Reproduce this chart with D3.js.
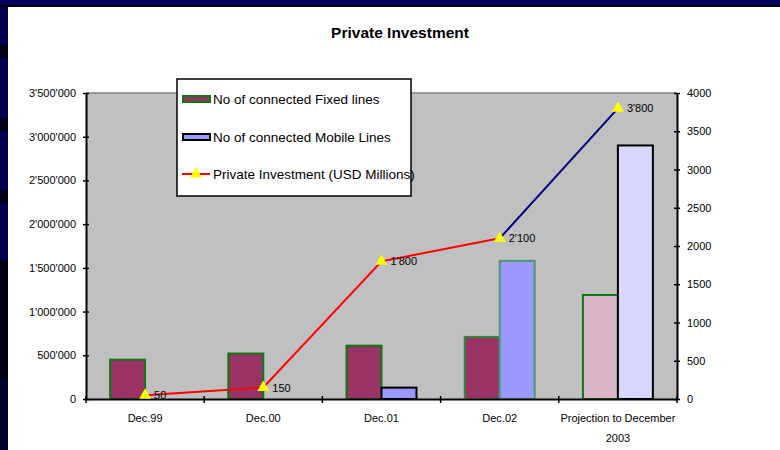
<!DOCTYPE html>
<html>
<head>
<meta charset="utf-8">
<script src="https://cdn.jsdelivr.net/npm/d3@7"></script>
<style>
  html, body { margin: 0; padding: 0; background: #ffffff; }
  svg { display: block; font-family: "Liberation Sans", Arial, sans-serif; }
</style>
</head>
<body>
<svg id="chart" width="780" height="450"></svg>
<script>
// ---- data ----
const categories = ["Dec.99", "Dec.00", "Dec.01", "Dec.02", "Projection to December 2003"];
const categoryLines = [["Dec.99"], ["Dec.00"], ["Dec.01"], ["Dec.02"], ["Projection to December", "2003"]];
const fixedLines = [450000, 520000, 610000, 710000, 1190000];
const mobileLines = [0, 0, 130000, 1580000, 2900000];
const investment = [50, 150, 1800, 2100, 3800];
const investmentLabels = ["50", "150", "1'800", "2'100", "3'800"];
const leftTicks = [0, 500000, 1000000, 1500000, 2000000, 2500000, 3000000, 3500000];
const rightTicks = [0, 500, 1000, 1500, 2000, 2500, 3000, 3500, 4000];
const seriesNames = ["No of connected Fixed lines", "No of connected Mobile Lines", "Private Investment (USD Millions)"];

// ---- layout ----
const svg = d3.select("#chart");
const W = 780, H = 450;
const plot = { left: 86, right: 677, top: 93, bottom: 399 };

// background frame
svg.append("rect").attr("x", 0).attr("y", 0).attr("width", W).attr("height", H).attr("fill", "#000050");
svg.append("rect").attr("x", 0).attr("y", 0).attr("width", W).attr("height", 5).attr("fill", "#00005e");
svg.append("rect").attr("x", 0).attr("y", 5).attr("width", W).attr("height", 2).attr("fill", "#000010");
const bands = [[45, 13, "#000018"], [118, 13, "#000018"], [190, 13, "#000018"], [260, 120, "#000014"], [380, 70, "#000030"]];
bands.forEach(b => svg.append("rect").attr("x", 0).attr("y", b[0]).attr("width", 8).attr("height", b[1]).attr("fill", b[2]));
svg.append("rect").attr("x", 8).attr("y", 7).attr("width", W - 8).attr("height", H - 7).attr("fill", "#ffffff");

// title
svg.append("text").attr("x", 400).attr("y", 38).attr("text-anchor", "middle")
  .attr("font-size", 15.5).attr("font-weight", "bold").attr("fill", "#000").text("Private Investment");

// scales
const x = d3.scaleBand().domain(categories).range([plot.left, plot.right]).paddingInner(0).paddingOuter(0);
const sub = d3.scaleBand().domain(["fixed", "mobile"]).range([0, x.bandwidth()]).paddingInner(0).paddingOuter(0.69);
const yL = d3.scaleLinear().domain([0, 3500000]).range([plot.bottom, plot.top]);
const yR = d3.scaleLinear().domain([0, 4000]).range([plot.bottom, plot.top]);

// plot area
svg.append("rect").attr("x", plot.left).attr("y", plot.top)
  .attr("width", plot.right - plot.left).attr("height", plot.bottom - plot.top).attr("fill", "#c0c0c0");
svg.append("line").attr("x1", plot.left).attr("x2", plot.right).attr("y1", plot.top).attr("y2", plot.top)
  .attr("stroke", "#808080").attr("stroke-width", 1.5);

// bars
const fixedFill = (i) => i === 4 ? "#d8b4c6" : "#993366";
const fixedStroke = (i) => i === 3 ? "#2f8a3a" : "#0a7a10";
const mobileFill = (i) => i === 4 ? "#d8d8fc" : "#9999ff";
const mobileStroke = (i) => i === 3 ? "#4a9a70" : "#000000";

svg.append("g").selectAll("rect").data(fixedLines).join("rect")
  .attr("x", (d, i) => x(categories[i]) + sub("fixed"))
  .attr("y", d => yL(d))
  .attr("width", sub.bandwidth())
  .attr("height", d => yL(0) - yL(d))
  .attr("fill", (d, i) => fixedFill(i))
  .attr("stroke", (d, i) => fixedStroke(i)).attr("stroke-width", 2);

svg.append("g").selectAll("rect").data(mobileLines.map((v, i) => ({ v, i })).filter(d => d.v > 0)).join("rect")
  .attr("x", d => x(categories[d.i]) + sub("mobile"))
  .attr("y", d => yL(d.v))
  .attr("width", sub.bandwidth())
  .attr("height", d => yL(0) - yL(d.v))
  .attr("fill", d => mobileFill(d.i))
  .attr("stroke", d => mobileStroke(d.i)).attr("stroke-width", 2);

// axes
const fmt = (v) => d3.format(",")(v).replace(/,/g, "'");
const axL = svg.append("g").attr("transform", `translate(${plot.left},0)`)
  .call(d3.axisLeft(yL).tickValues(leftTicks).tickFormat(fmt).tickSizeInner(3).tickSizeOuter(0).tickPadding(7));
axL.selectAll(".tick line").attr("x1", 3).attr("x2", -3);
const axR = svg.append("g").attr("transform", `translate(${plot.right},0)`)
  .call(d3.axisRight(yR).tickValues(rightTicks).tickFormat(d3.format("d")).tickSizeInner(3).tickSizeOuter(0).tickPadding(7));
axR.selectAll(".tick line").attr("x1", -3).attr("x2", 3);
const axB = svg.append("g").attr("transform", `translate(0,${plot.bottom})`)
  .call(d3.axisBottom(x).tickSize(0).tickFormat(""));
[axL, axR, axB].forEach(a => {
  a.select(".domain").attr("stroke", "#000").attr("stroke-width", 2);
  a.selectAll(".tick line").attr("stroke", "#000").attr("stroke-width", 1.5);
  a.selectAll(".tick text").attr("font-size", 11).attr("fill", "#000")
    .attr("font-family", "'Liberation Sans', Arial, sans-serif");
});
const boundaries = categories.map(c => x(c)).concat([x(categories[categories.length - 1]) + x.bandwidth()]);
axB.selectAll(".bt").data(boundaries).join("line").attr("class", "bt")
  .attr("x1", d => d).attr("x2", d => d).attr("y1", -3).attr("y2", 4)
  .attr("stroke", "#000").attr("stroke-width", 1.5);
categoryLines.forEach((lines, i) => {
  lines.forEach((t, j) => {
    svg.append("text").attr("x", x(categories[i]) + x.bandwidth() / 2).attr("y", 422 + j * 20)
      .attr("text-anchor", "middle").attr("font-size", 11).attr("fill", "#000").text(t);
  });
});

// investment line
const pts = investment.map((v, i) => [x(categories[i]) + x.bandwidth() / 2, yR(v)]);
const line = d3.line();
svg.append("path").attr("d", line(pts.slice(0, 4))).attr("fill", "none").attr("stroke", "#ff0000").attr("stroke-width", 2);
svg.append("path").attr("d", line(pts.slice(3))).attr("fill", "none").attr("stroke", "#000080").attr("stroke-width", 2);
const tri = d3.symbol().type(d3.symbolTriangle).size(62);
svg.append("g").selectAll("path").data(pts).join("path")
  .attr("transform", d => `translate(${d[0]},${d[1]})`).attr("d", tri).attr("fill", "#ffff00");
svg.append("g").selectAll("text").data(pts).join("text")
  .attr("x", d => d[0] + 9).attr("y", d => d[1] + 4)
  .attr("font-size", 11).attr("fill", "#000")
  .text((d, i) => investmentLabels[i]);

// legend
const lg = svg.append("g");
lg.append("rect").attr("x", 177).attr("y", 79).attr("width", 234).attr("height", 117)
  .attr("fill", "#fff").attr("stroke", "#000").attr("stroke-width", 1.5);
const rowY = [99, 137, 174];
lg.append("rect").attr("x", 183).attr("y", rowY[0] - 3).attr("width", 27).attr("height", 6)
  .attr("fill", "#993366").attr("stroke", "#0a7a10").attr("stroke-width", 2);
lg.append("rect").attr("x", 183).attr("y", rowY[1] - 3).attr("width", 27).attr("height", 6)
  .attr("fill", "#9999ff").attr("stroke", "#000").attr("stroke-width", 2);
lg.append("line").attr("x1", 182).attr("x2", 210).attr("y1", rowY[2]).attr("y2", rowY[2])
  .attr("stroke", "#ff0000").attr("stroke-width", 2);
lg.append("path").attr("transform", `translate(196,${rowY[2]})`).attr("d", tri).attr("fill", "#ffff00");
seriesNames.forEach((n, i) => {
  lg.append("text").attr("x", 213).attr("y", rowY[i] + 5).attr("font-size", 13.5).attr("fill", "#000").text(n);
});
</script>
</body>
</html>
